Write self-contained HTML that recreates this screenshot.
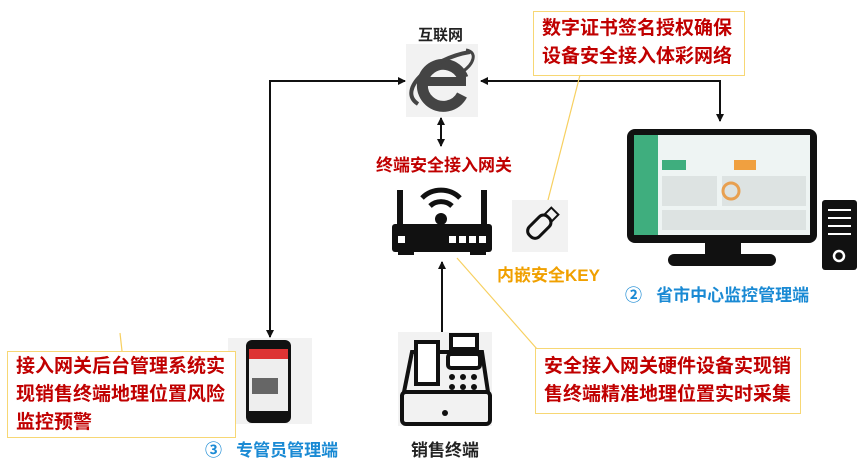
<!DOCTYPE html>
<html><head><meta charset="utf-8"><style>
body{margin:0;width:864px;height:468px;background:#fff;position:relative;overflow:hidden;font-family:"Liberation Sans","Noto Sans CJK SC",sans-serif;}
.t{position:absolute;font-weight:bold;white-space:nowrap;}
.box{position:absolute;border:1.5px solid #f7d774;background:#fff;color:#c00000;font-weight:bold;font-size:19px;line-height:28px;padding:0 8px;box-sizing:border-box;}
</style></head><body>
<svg width="864" height="468" style="position:absolute;left:0;top:0">
<defs><marker id="a" markerWidth="8" markerHeight="8" refX="7" refY="4" orient="auto" markerUnits="userSpaceOnUse"><path d="M0,0 L8,4 L0,8 z" fill="#111"/></marker></defs>
<g stroke="#111" stroke-width="2" fill="none">
<polyline points="270,337 270,81 405,81" marker-end="url(#a)"/>
<path d="M270,300 L270,337" marker-end="url(#a)"/>
<polyline points="720,120 720,81 481,81" marker-end="url(#a)"/>
<path d="M720,100 L720,121" marker-end="url(#a)"/>
<path d="M441,130 L441,146" marker-end="url(#a)"/>
<path d="M441,132 L441,118" marker-end="url(#a)"/>
<path d="M442,345 L442,262" marker-end="url(#a)"/>
</g>
<g stroke="#f7d060" stroke-width="1.2"><line x1="580" y1="75" x2="548" y2="200"/><line x1="457" y1="258" x2="537" y2="349"/><line x1="120" y1="333" x2="122" y2="351"/></g>
<!-- internet -->
<rect x="406" y="44" width="72" height="73" fill="#f2f2f2"/>
<path d="M462,95 A21,21 0 1 1 463,78" stroke="#444" stroke-width="11" fill="none"/>
<rect x="424" y="77" width="42" height="9" fill="#444"/>
<path d="M418,104 C396,90 432,58 470,52" stroke="#444" stroke-width="4" fill="none"/>
<path d="M466,50 C478,52 474,64 462,72" stroke="#444" stroke-width="3" fill="none"/>
<!-- router -->
<rect x="392" y="224" width="100" height="28" rx="3" fill="#111"/>
<rect x="397" y="190" width="6" height="36" fill="#111"/><rect x="481" y="190" width="6" height="36" fill="#111"/>
<rect x="398" y="250" width="16" height="5" fill="#111"/><rect x="470" y="250" width="16" height="5" fill="#111"/>
<rect x="398" y="236" width="7" height="7" fill="#fff"/>
<rect x="449" y="236" width="7" height="7" fill="#fff"/><rect x="459" y="236" width="7" height="7" fill="#fff"/><rect x="469" y="236" width="7" height="7" fill="#fff"/><rect x="479" y="236" width="7" height="7" fill="#fff"/>
<circle cx="441" cy="219" r="6" fill="#111"/>
<g stroke="#111" stroke-width="5" fill="none"><path d="M430,206 A16,16 0 0 1 452,206"/><path d="M422,198 A27,27 0 0 1 460,198"/></g>
<!-- usb -->
<rect x="512" y="200" width="56" height="52" fill="#f2f2f2"/>
<g transform="rotate(-45 540 226)"><rect x="526" y="219" width="26" height="14" rx="6" fill="none" stroke="#111" stroke-width="3"/><rect x="552" y="221" width="9" height="10" fill="none" stroke="#111" stroke-width="2"/></g>
<!-- monitor -->
<rect x="627" y="129" width="190" height="114" rx="8" fill="#111"/>
<rect x="634" y="135" width="176" height="100" fill="#eef4f3"/>
<rect x="634" y="135" width="24" height="100" fill="#3fae7e"/>
<rect x="662" y="160" width="24" height="10" fill="#3fae7e"/><rect x="734" y="160" width="22" height="10" fill="#f0a040"/>
<g fill="#dde3e2"><rect x="662" y="176" width="55" height="30"/><rect x="722" y="176" width="84" height="30"/><rect x="662" y="210" width="144" height="20"/></g>
<circle cx="731" cy="191" r="8" fill="none" stroke="#e8a050" stroke-width="3"/>
<rect x="705" y="240" width="36" height="14" fill="#111"/>
<rect x="668" y="254" width="108" height="12" rx="6" fill="#111"/>
<rect x="822" y="200" width="35" height="70" rx="3" fill="#111"/>
<g stroke="#fff" stroke-width="2"><line x1="828" y1="210" x2="851" y2="210"/><line x1="828" y1="218" x2="851" y2="218"/><line x1="828" y1="226" x2="851" y2="226"/><line x1="828" y1="234" x2="851" y2="234"/></g>
<circle cx="839" cy="256" r="5" fill="none" stroke="#fff" stroke-width="2.5"/>
<!-- phone -->
<rect x="228" y="338" width="84" height="86" fill="#f2f2f2"/>
<rect x="246" y="340" width="45" height="83" rx="6" fill="#111"/>
<rect x="249" y="349" width="39" height="62" fill="#eee"/>
<rect x="249" y="349" width="39" height="10" fill="#d33"/>
<rect x="252" y="378" width="26" height="16" fill="#666"/>
<!-- register -->
<rect x="398" y="332" width="94" height="94" fill="#f2f2f2"/>
<rect x="402" y="392" width="88" height="32" rx="4" fill="none" stroke="#111" stroke-width="4"/>
<path d="M404,392 L412,352 L482,352 L488,392" fill="none" stroke="#111" stroke-width="4"/>
<rect x="416" y="342" width="22" height="42" fill="#fff" stroke="#111" stroke-width="4"/>
<rect x="451" y="335" width="26" height="14" fill="#fff" stroke="#111" stroke-width="4"/>
<rect x="448" y="354" width="32" height="14" rx="3" fill="#fff" stroke="#111" stroke-width="4"/>
<g fill="#111"><circle cx="452" cy="377" r="3"/><circle cx="463" cy="377" r="3"/><circle cx="474" cy="377" r="3"/><circle cx="452" cy="387" r="3"/><circle cx="463" cy="387" r="3"/><circle cx="474" cy="387" r="3"/><circle cx="445" cy="413" r="3"/></g>
</svg>
<div class="t" style="left:418px;top:24px;font-size:15px;color:#222">互联网</div>
<div class="t" style="left:376px;top:151px;font-size:17px;color:#c00000">终端安全接入网关</div>
<div class="t" style="left:497px;top:261px;font-size:17px;color:#f0a000">内嵌安全KEY</div>
<div class="t" style="left:625px;top:281px;font-size:17px;color:#1a8ad4">②&nbsp;&nbsp;&nbsp;省市中心监控管理端</div>
<div class="t" style="left:205px;top:436px;font-size:17px;color:#1a8ad4">③&nbsp;&nbsp;&nbsp;专管员管理端</div>
<div class="t" style="left:411px;top:436px;font-size:17px;color:#222">销售终端</div>
<div class="box" style="left:533px;top:11px;width:212px;height:65px;padding-top:3px">数字证书签名授权确保<br>设备安全接入体彩网络</div>
<div class="box" style="left:535px;top:348px;width:266px;height:66px;padding-top:4px">安全接入网关硬件设备实现销<br>售终端精准地理位置实时采集</div>
<div class="box" style="left:7px;top:351px;width:229px;height:87px;padding-top:1px">接入网关后台管理系统实<br>现销售终端地理位置风险<br>监控预警</div>
</body></html>
